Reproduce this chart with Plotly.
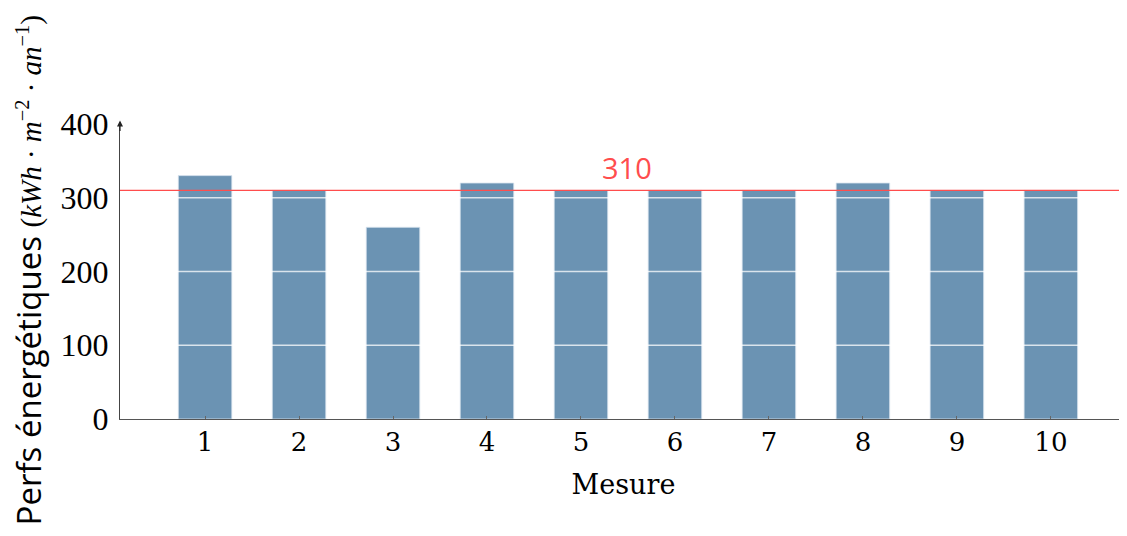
import plotly.graph_objects as go

mesures = [1, 2, 3, 4, 5, 6, 7, 8, 9, 10]
perfs = [330, 310, 260, 320, 310, 310, 310, 320, 310, 310]
seuil = 310
y_ticks = [0, 100, 200, 300, 400]
grid_vals = [100, 200, 300]

cm = "Liberation Serif, DejaVu Serif, serif"
charter = "DejaVu Serif, Liberation Serif, serif"
sans = "Open Sans, Noto Sans, sans-serif"

fig = go.Figure()
fig.add_trace(go.Bar(
    x=mesures, y=perfs, width=0.57,
    marker=dict(color="#6b93b3", line=dict(color="rgba(220,230,240,0.8)", width=1)),
    showlegend=False,
))

shapes = []
for g in grid_vals:
    shapes.append(dict(type="line", xref="x", yref="y", x0=0.15, x1=10.85, y0=g, y1=g,
                       line=dict(color="rgba(255,255,255,0.75)", width=1.5), layer="above"))
shapes.append(dict(type="line", xref="paper", yref="y", x0=0, x1=1, y0=seuil, y1=seuil,
                   line=dict(color="#ff4d4d", width=1.2), layer="above"))
fig.update_layout(shapes=shapes)

ylabel = ("Perfs énergétiques "
          f"<span style='font-family:{cm};font-size:29px'>(<i>kWh</i> · <i>m</i><sup>−2</sup> · <i>an</i><sup>−1</sup>)</span>")

fig.update_layout(
    width=1119, height=528,
    margin=dict(l=112, r=0, t=116, b=117),
    plot_bgcolor="white", paper_bgcolor="white",
    font=dict(family=cm, color="black", size=26),
    xaxis=dict(range=[0.095, 10.81], tickvals=mesures, ticktext=[str(m) for m in mesures],
               showgrid=False, zeroline=False, showline=True, linecolor="#555", linewidth=1.2,
               ticks="inside", ticklen=3, tickcolor="#666",
               tickfont=dict(family=charter, size=26),
               title=dict(text="Mesure", font=dict(family=charter, size=27), standoff=18)),
    yaxis=dict(range=[0, 400], tickvals=y_ticks, ticktext=[str(t) for t in y_ticks],
               showgrid=False, zeroline=False, showline=True, linecolor="#444", linewidth=1.2,
               ticks="", tickfont=dict(family=cm, size=32), ticklabelstandoff=4),
    annotations=[
        dict(text=ylabel, xref="paper", yref="paper", x=-0.091, y=0.505, yanchor="middle",
             xanchor="center", textangle=-90, showarrow=False,
             font=dict(family=sans, size=33, color="black")),
        dict(text=str(seuil), xref="x", yref="y", x=5.49, y=seuil, yanchor="bottom",
             showarrow=False, yshift=1, font=dict(family=sans, size=29, color="#ff4d4d")),
        dict(text="", xref="paper", yref="paper", x=0, y=1.012, ax=0, ay=12,
             showarrow=True, arrowhead=2, arrowsize=1, arrowwidth=1.2, arrowcolor="#222"),
    ],
)

fig.write_html("out.html")
